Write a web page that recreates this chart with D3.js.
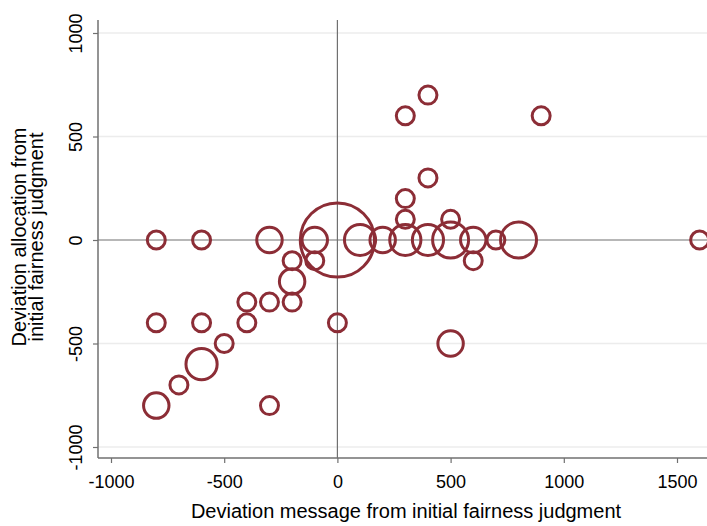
<!DOCTYPE html>
<html>
<head>
<meta charset="utf-8">
<script src="https://cdn.jsdelivr.net/npm/d3@7"></script>
<style>
  html, body { margin: 0; padding: 0; background: #fff; overflow: hidden; }
  text { font-family: "Liberation Sans", Arial, sans-serif; fill: #000; }
</style>
</head>
<body>
<div id="chart"></div>
<script>
// deviation of message from initial fairness judgment (x)
const msgDev = [-800, -600, -300, -100, 0, 100, 200, 300, 400, 500, 600, 700, 800, 1600,
  300, 400, 900, 300, 400, 300, 500, 600,
  -200, -100, -200, -200, -300, -400, -400, -600, -800, 0, -500, -600, -700, -800, -300, 500];
// deviation of allocation from initial fairness judgment (y)
const allocDev = [0, 0, 0, 0, 0, 0, 0, 0, 0, 0, 0, 0, 0, 0,
  600, 700, 600, 200, 300, 100, 100, -100,
  -100, -100, -200, -300, -300, -300, -400, -400, -400, -400, -500, -600, -700, -800, -800, -500];
// number of observations at each point (marker weight)
const freq = [1, 1, 2, 2, 17, 3, 2, 3, 3, 4, 2, 1, 4, 1,
  1, 1, 1, 1, 1, 1, 1, 1,
  1, 1, 2, 1, 1, 1, 1, 1, 1, 1, 1, 3, 1, 2, 1, 2];

const xTicks = [-1000, -500, 0, 500, 1000, 1500];
const yTicks = [-1000, -500, 0, 500, 1000];

const W = 707, H = 526;
const plotLeft = 98, plotRight = 707, plotTop = 20, plotBottom = 458;
const markColor = '#8c2d36';
const axisColor = '#707070';
const fmt = d => String(d); // plain hyphen, no thousands separator

const svg = d3.select('#chart').append('svg')
  .attr('width', W)
  .attr('height', H);

const x = d3.scaleLinear().domain([-1000, 1500]).range([111, 677]);
const y = d3.scaleLinear().domain([-1000, 1000]).range([447, 33]);
const r = d3.scaleSqrt().domain([0, 1]).range([0, 9]);

// light grid lines
svg.append('g')
  .selectAll('line')
  .data(yTicks.filter(d => d !== 0))
  .enter()
  .append('line')
  .attr('x1', plotLeft).attr('x2', plotRight)
  .attr('y1', d => y(d)).attr('y2', d => y(d))
  .attr('stroke', '#ececec')
  .attr('stroke-width', 1.5);

// reference lines at zero
svg.append('line')
  .attr('x1', plotLeft).attr('x2', plotRight)
  .attr('y1', y(0)).attr('y2', y(0))
  .attr('stroke', axisColor).attr('stroke-width', 1.2);
svg.append('line')
  .attr('x1', x(0)).attr('x2', x(0))
  .attr('y1', plotTop).attr('y2', plotBottom)
  .attr('stroke', axisColor).attr('stroke-width', 1.2);

// y axis
const yAxis = svg.append('g')
  .attr('transform', `translate(${plotLeft},0)`)
  .call(d3.axisLeft(y).tickValues(yTicks).tickFormat(fmt).tickSize(5).tickSizeOuter(0));
yAxis.select('.domain').remove();
yAxis.selectAll('.tick line').attr('stroke', axisColor).attr('stroke-width', 1.2);
yAxis.selectAll('.tick text')
  .attr('font-size', '18px')
  .attr('text-anchor', 'middle')
  .attr('x', 0).attr('y', 0).attr('dy', 0)
  .attr('transform', 'translate(-16,0) rotate(-90)');
svg.append('line')
  .attr('x1', plotLeft).attr('x2', plotLeft)
  .attr('y1', plotTop).attr('y2', plotBottom)
  .attr('stroke', axisColor).attr('stroke-width', 1.5);

// x axis
const xAxis = svg.append('g')
  .attr('transform', `translate(0,${plotBottom})`)
  .call(d3.axisBottom(x).tickValues(xTicks).tickFormat(fmt).tickSize(5).tickSizeOuter(0));
xAxis.select('.domain').remove();
xAxis.selectAll('.tick line').attr('stroke', axisColor).attr('stroke-width', 1.2);
xAxis.selectAll('.tick text')
  .attr('font-size', '18px')
  .attr('y', 30).attr('dy', 0);
svg.append('line')
  .attr('x1', plotLeft).attr('x2', plotRight)
  .attr('y1', plotBottom).attr('y2', plotBottom)
  .attr('stroke', axisColor).attr('stroke-width', 1.5);

// markers
const pts = msgDev.map((d, i) => ({ mx: d, ay: allocDev[i], n: freq[i] }));
svg.append('g')
  .selectAll('circle')
  .data(pts)
  .enter()
  .append('circle')
  .attr('cx', d => x(d.mx))
  .attr('cy', d => y(d.ay))
  .attr('r', d => r(d.n))
  .attr('fill', 'none')
  .attr('stroke', markColor)
  .attr('stroke-width', 3);

// axis titles
svg.append('text')
  .attr('x', 406).attr('y', 518)
  .attr('text-anchor', 'middle')
  .attr('font-size', '20px')
  .text('Deviation message from initial fairness judgment');

const yTitle = svg.append('text')
  .attr('transform', 'translate(26,237) rotate(-90)')
  .attr('text-anchor', 'middle')
  .attr('font-size', '20px');
yTitle.append('tspan').attr('x', 0).attr('y', 0).text('Deviation allocation from');
yTitle.append('tspan').attr('x', 0).attr('y', 17).text('initial fairness judgment');
</script>
</body>
</html>
